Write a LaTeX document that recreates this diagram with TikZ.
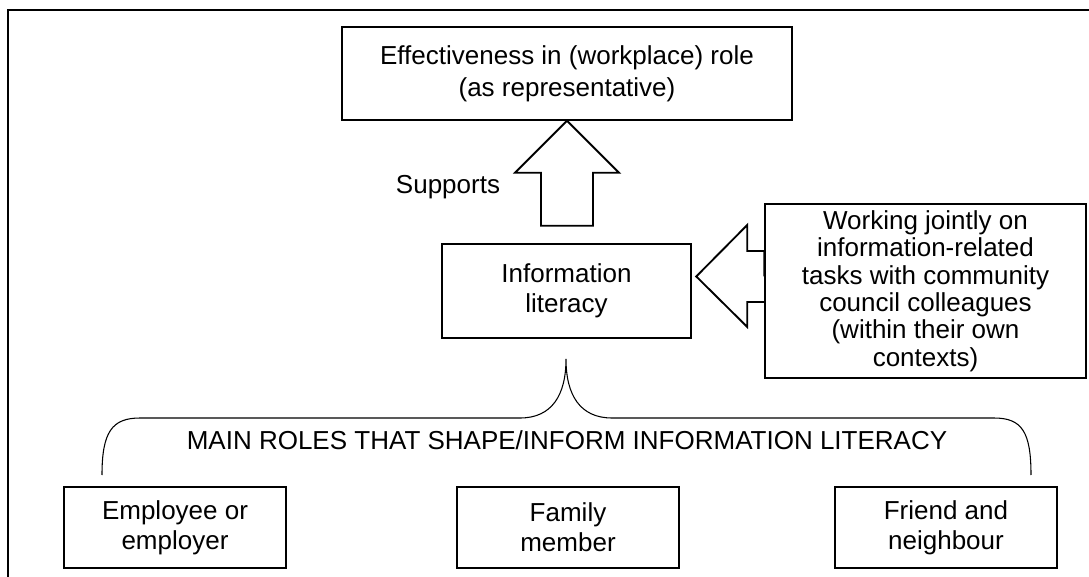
\documentclass[tikz,border=0pt]{standalone}
\usepackage{fontspec}
\setmainfont{Liberation Sans}

\begin{document}
\begin{tikzpicture}[
    x=0.75pt, y=-0.75pt,
    every node/.style={font=\fontsize{19.5}{22.5}\selectfont},
    box/.style={rectangle, draw, line width=1.1pt, align=center, inner sep=0pt},
    rolebox/.style={box, minimum width=166.5pt, minimum height=60.75pt},
    blockarrow/.style={draw, line width=1.4pt, line join=miter},
    brace/.style={draw, line width=0.8pt}
]

% Frame
\useasboundingbox (0,0) rectangle (1089,577);
\draw[line width=1.5pt] (8,577) -- (8,10) -- (1089,10);

% Outcome
\node[box, minimum width=337.5pt, minimum height=69.75pt, font=\fontsize{19.5}{24}\selectfont]
    (effect) at (567,73.5) {Effectiveness in (workplace) role\\(as representative)};

% Information literacy
\node[box, minimum width=186.75pt, minimum height=70.5pt] (infolit) at (566.5,291)
    {Information\\literacy};

% Joint working
\node[box, minimum width=240.75pt, minimum height=130.5pt, font=\fontsize{19.5}{20.5}\selectfont]
    (joint) at (925.5,291)
    {Working jointly on\\information-related\\tasks with community\\council colleagues\\(within their own\\contexts)};

% Roles
\node[rolebox] (employee) at (175,527.5) {Employee or\\employer};
\node[rolebox] (family) at (568,527.5) {Family\\member};
\node[rolebox] (friend) at (946,527.5) {Friend and\\neighbour};

% Block arrows
\draw[blockarrow] (effect.south) -- ++(52,52) -- ++(-26,0) -- ++(0,53) -- ++(-52,0)
    -- ++(0,-53) -- ++(-26,0) -- cycle;
\node (supports) at (448,187) {Supports};
\draw[blockarrow] ([yshift=10.9pt]joint.west) -- ++(0,-25.5) -- ++(-17,0) -- ++(0,-26)
    -- ++(-51,51.5) -- ++(51,50.5) -- ++(0,-25) -- ++(17,0);

% Roles brace
\draw[brace] (102,475) .. controls (102,432) and (112,418) .. (140,418)
    -- (520,418) .. controls (552,418) and (566,395) .. (566,359)
    .. controls (566,395) and (580,418) .. (612,418)
    -- (994,418) .. controls (1022,418) and (1031,432) .. (1031,475);
\node[anchor=base] (roles) at (567,449) {MAIN ROLES THAT SHAPE/INFORM INFORMATION LITERACY};

\end{tikzpicture}
\end{document}
